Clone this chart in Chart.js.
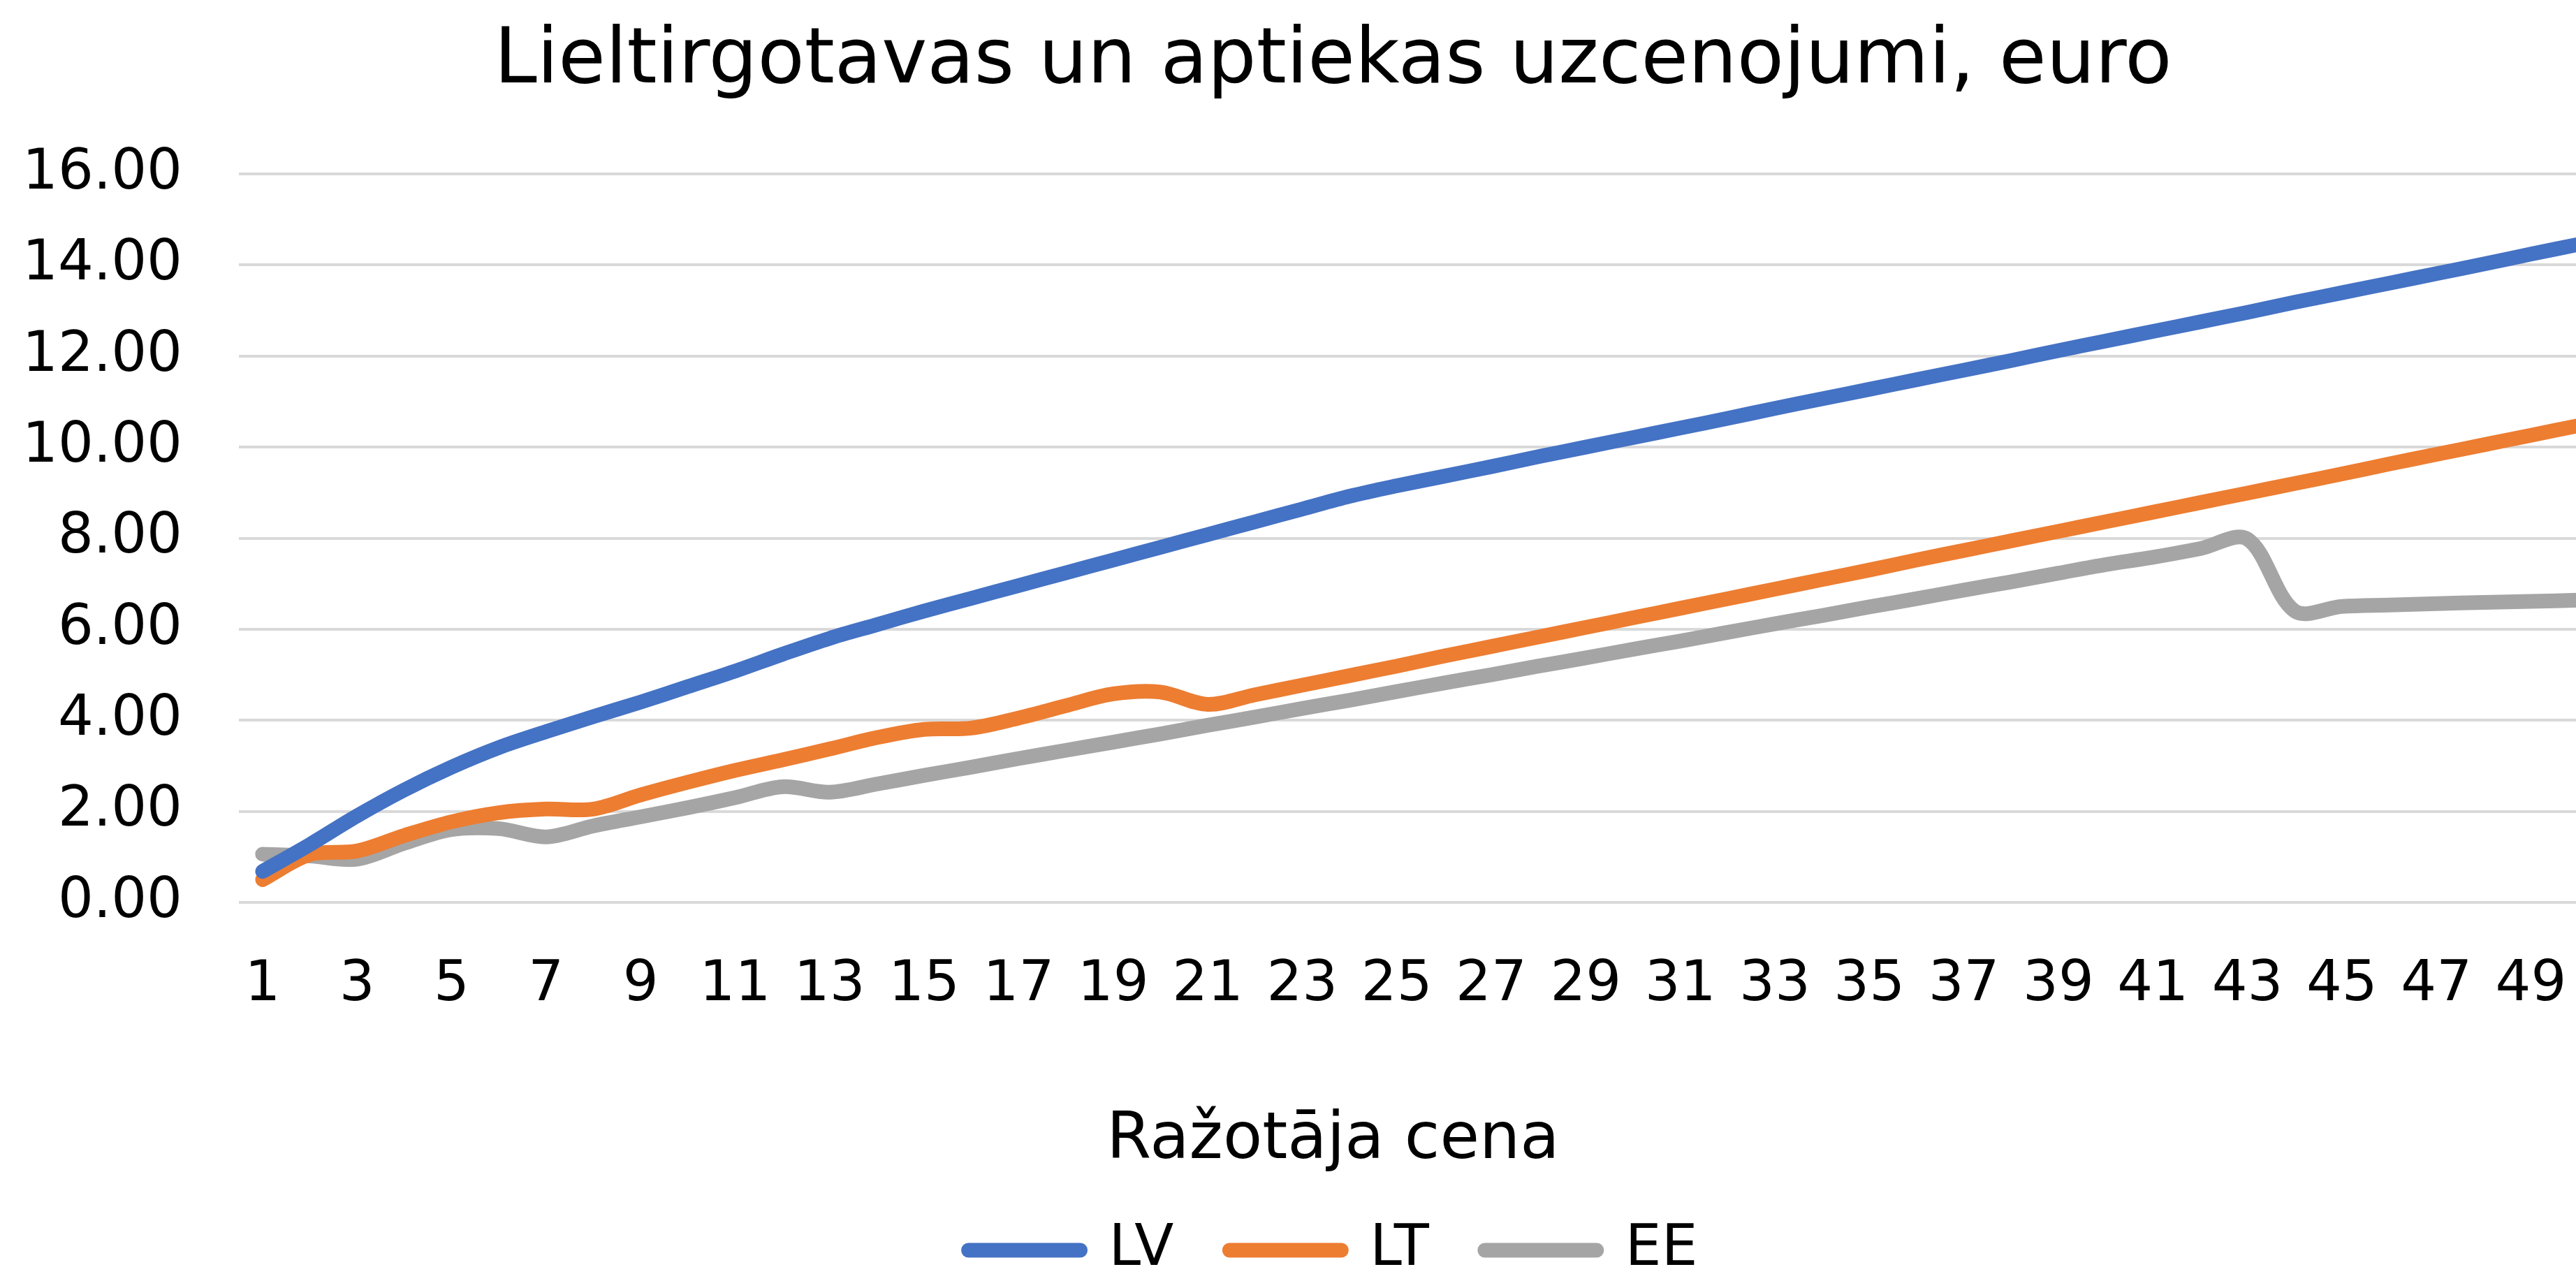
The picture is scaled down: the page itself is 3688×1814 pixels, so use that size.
<!DOCTYPE html>
<html>
<head>
<meta charset="utf-8">
<title>Lieltirgotavas un aptiekas uzcenojumi</title>
<script src="https://cdn.jsdelivr.net/npm/chart.js@4/dist/chart.umd.min.js"></script>
<style>
    html, body { margin: 0; padding: 0; background: #ffffff; overflow: hidden; }
    #grafico { display: block; }
</style>
</head>
<body>
<canvas id="grafico" width="3866" height="1851" style="width:3866px;height:1851px"></canvas>
<script>
// Ražotāja cena (kategorijas)
const kategorijas = ['1','2','3','4','5','6','7','8','9','10','11','12','13','14','15','16','17','18','19','20',
    '21','22','23','24','25','26','27','28','29','30','31','32','33','34','35','36','37','38','39','40',
    '41','42','43','44','45','46','47','48','49','50'];

// uzcenojumi, euro
const lv = [0.68, 1.27, 1.9, 2.47, 2.97, 3.4, 3.75, 4.08, 4.4, 4.74, 5.08, 5.45, 5.8, 6.1, 6.4, 6.68, 6.96, 7.24, 7.52, 7.8,
    8.08, 8.36, 8.64, 8.92, 9.15, 9.36, 9.57, 9.79, 10.0, 10.21, 10.42, 10.63, 10.85, 11.06, 11.27, 11.48, 11.69, 11.9, 12.12, 12.33,
    12.54, 12.75, 12.96, 13.18, 13.39, 13.6, 13.81, 14.02, 14.24, 14.45];
const lt = [0.5, 1.05, 1.13, 1.47, 1.77, 1.97, 2.05, 2.05, 2.36, 2.64, 2.9, 3.13, 3.37, 3.62, 3.8, 3.83, 4.05, 4.32, 4.58, 4.62,
    4.35, 4.56, 4.77, 4.98, 5.19, 5.41, 5.62, 5.83, 6.04, 6.25, 6.46, 6.67, 6.88, 7.09, 7.3, 7.52, 7.73, 7.94, 8.15, 8.36,
    8.57, 8.78, 8.99, 9.2, 9.41, 9.63, 9.84, 10.05, 10.26, 10.47];
const ee = [1.06, 1.02, 0.95, 1.3, 1.6, 1.62, 1.44, 1.68, 1.88, 2.08, 2.3, 2.54, 2.42, 2.6, 2.79, 2.97, 3.16, 3.34, 3.52, 3.7,
    3.89, 4.07, 4.26, 4.44, 4.63, 4.82, 5.0, 5.19, 5.37, 5.56, 5.74, 5.93, 6.12, 6.3, 6.49, 6.67, 6.86, 7.04, 7.23, 7.42,
    7.58, 7.77, 7.98, 6.4, 6.5, 6.53, 6.56, 6.59, 6.61, 6.64];

// y ass: 0.00 ... 16.00
const yMin = 0;
const yMax = 16;
const ySolis = 2;

const fonts = 'DejaVu Sans, Verdana, sans-serif';

function linija(nosaukums, dati, krasa) {
    return {
        label: nosaukums,
        data: dati,
        borderColor: krasa,
        backgroundColor: krasa,
        borderWidth: 21,
        borderCapStyle: 'round',
        borderJoinStyle: 'round',
        tension: 0.33,
        fill: false,
        pointRadius: 0,
        pointHoverRadius: 0,
        pointStyle: 'line',
        pointBorderWidth: 21,
        pointBorderColor: krasa,
        pointBackgroundColor: krasa
    };
}

const ctx = document.getElementById('grafico').getContext('2d');

new Chart(ctx, {
    type: 'line',
    data: {
        labels: kategorijas,
        datasets: [
            linija('LV', lv, '#4472C4'),
            linija('LT', lt, '#ED7D31'),
            linija('EE', ee, '#A5A5A5')
        ]
    },
    options: {
        responsive: false,
        animation: false,
        devicePixelRatio: 1,
        layout: {
            padding: { left: 32, right: 81, top: 0, bottom: 10 }
        },
        plugins: {
            title: {
                display: true,
                text: 'Lieltirgotavas un aptiekas uzcenojumi, euro',
                color: '#000000',
                font: { family: fonts, size: 110, weight: 'normal', lineHeight: '110px' },
                padding: { top: 34, bottom: 105 }
            },
            subtitle: {
                display: true,
                position: 'bottom',
                text: 'Ražotāja cena',
                color: '#000000',
                font: { family: fonts, size: 92, weight: 'normal', lineHeight: '70px' },
                padding: { top: 69, bottom: 0 }
            },
            legend: {
                display: true,
                position: 'bottom',
                weight: 1600,
                labels: {
                    usePointStyle: true,
                    pointStyleWidth: 160,
                    padding: 80,
                    color: '#000000',
                    font: { family: fonts, size: 82 },
                    // leģendas līnijām noapaļoti gali
                    generateLabels: function(chart) {
                        const items = Chart.defaults.plugins.legend.labels.generateLabels(chart);
                        items.forEach(function(item) { item.lineCap = 'round'; });
                        return items;
                    }
                }
            },
            tooltip: { enabled: false }
        },
        scales: {
            x: {
                offset: true,
                grid: { display: false, drawTicks: false },
                border: { display: false },
                ticks: {
                    autoSkip: false,
                    maxRotation: 0,
                    padding: 71,
                    color: '#000000',
                    font: { family: fonts, size: 80 },
                    callback: function(value, index) {
                        return index % 2 === 0 ? this.getLabelForValue(value) : '';
                    }
                }
            },
            y: {
                min: yMin,
                max: yMax,
                grid: { color: '#D9D9D9', lineWidth: 4, drawTicks: false },
                border: { display: false },
                ticks: {
                    stepSize: ySolis,
                    padding: 81,
                    color: '#000000',
                    font: { family: fonts, size: 80 },
                    callback: function(value) {
                        return Number(value).toFixed(2);
                    }
                },
                // ass platums, lai zīmēšanas laukums sāktos pie x = 342
                afterFit: function(scale) {
                    scale.width = 310;
                }
            },
            // tukša atstarpe labajā pusē (virsraksts un leģenda centrējas kā oriģinālā)
            atstarpe: {
                type: 'linear',
                position: 'right',
                display: true,
                grid: { display: false, drawTicks: false },
                border: { display: false },
                ticks: { display: false },
                afterFit: function(scale) {
                    scale.width = 60;
                }
            }
        }
    }
});
</script>
</body>
</html>
